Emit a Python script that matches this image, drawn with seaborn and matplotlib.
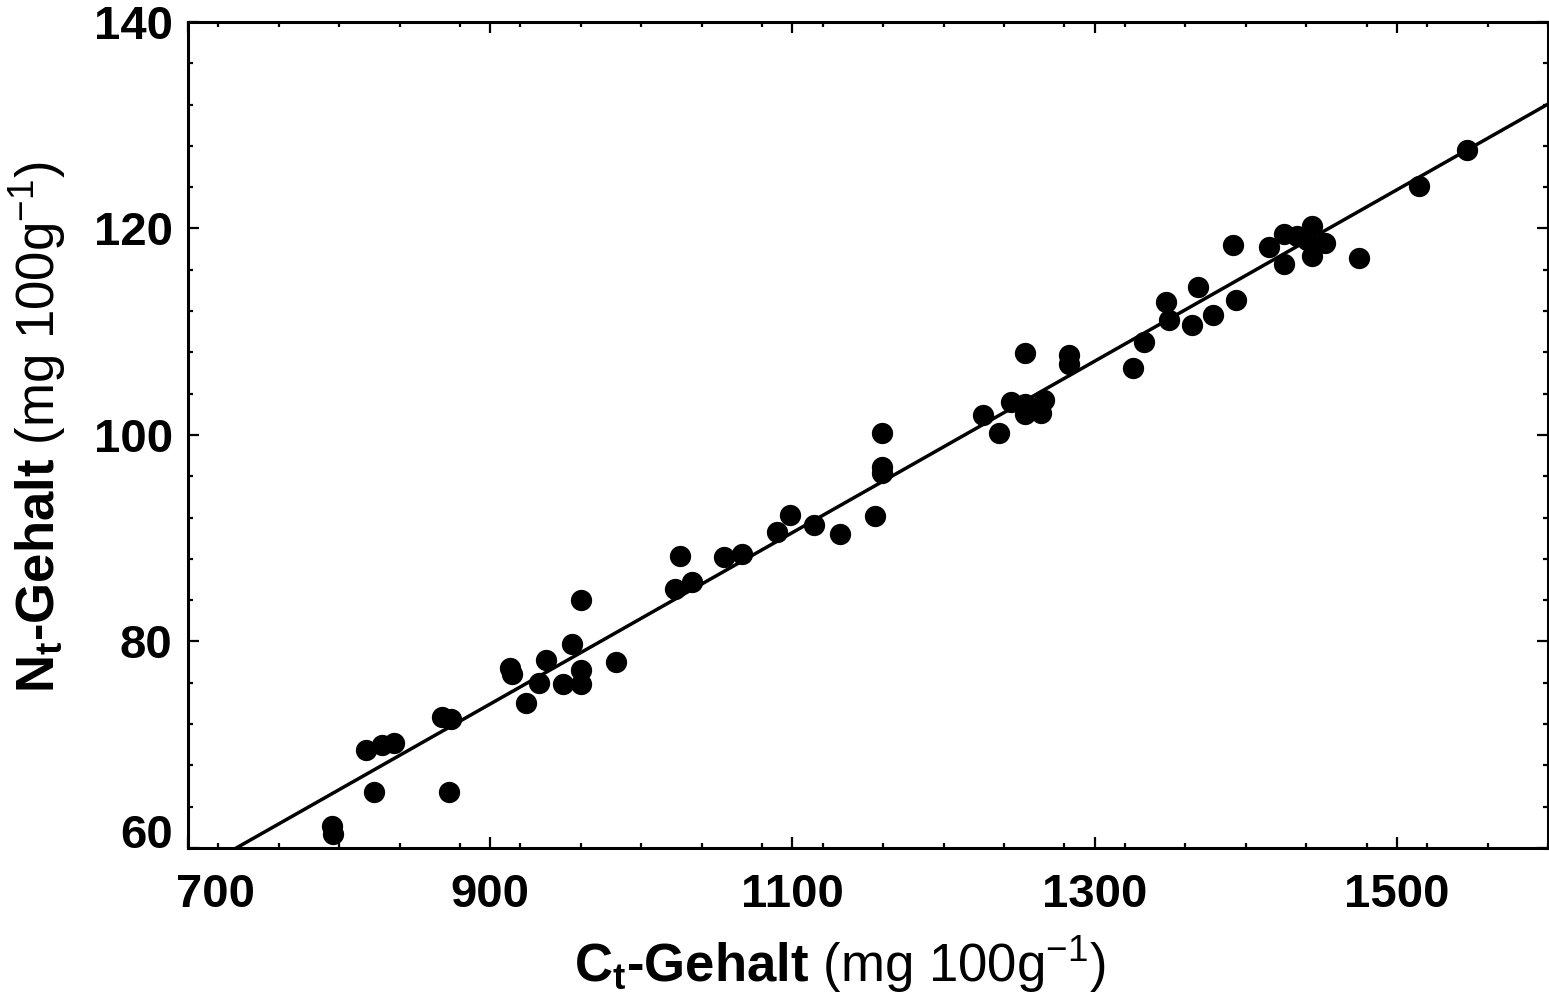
import numpy as np
import pandas as pd
import matplotlib
matplotlib.use("Agg")
import matplotlib.pyplot as plt
import seaborn as sns
from matplotlib.ticker import MultipleLocator, FixedLocator
from matplotlib.transforms import ScaledTranslation

# Data
ct_gehalt = [795.0, 795.7, 817.5, 823.4, 828.7, 836.6, 868.3, 874.3, 872.9, 913.2,
             914.5, 923.8, 932.4, 937.0, 948.2, 954.2, 960.1, 960.1, 960.1, 983.2,
             1022.1, 1025.4, 1033.3, 1054.5, 1066.4, 1089.5, 1098.7, 1114.5, 1131.7, 1154.8,
             1159.4, 1159.4, 1159.4, 1226.1, 1236.7, 1244.6, 1253.8, 1253.8, 1253.8, 1264.4,
             1266.4, 1282.9, 1282.9, 1325.1, 1332.4, 1346.9, 1349.5, 1364.1, 1368.7, 1378.6,
             1393.8, 1391.8, 1415.6, 1425.5, 1425.5, 1434.1, 1443.9, 1443.9, 1452.5, 1475.0,
             1514.6, 1546.3, 1440.7]
nt_gehalt = [62.1, 61.4, 69.5, 65.4, 70.0, 70.2, 72.7, 72.5, 65.4, 77.4,
             76.9, 74.0, 76.0, 78.2, 75.9, 79.8, 77.2, 75.9, 84.0, 78.0,
             85.1, 88.3, 85.8, 88.2, 88.5, 90.6, 92.3, 91.3, 90.4, 92.2,
             100.2, 96.9, 96.3, 101.9, 100.2, 103.2, 107.9, 103.0, 102.0, 102.1,
             103.4, 107.7, 106.9, 106.5, 109.0, 112.9, 111.1, 110.7, 114.3, 111.6,
             113.1, 118.4, 118.2, 116.6, 119.5, 119.3, 120.2, 117.3, 118.6, 117.1,
             124.1, 127.6, 118.9]

x_ticks = [700, 900, 1100, 1300, 1500]
y_ticks = [60, 80, 100, 120, 140]

df = pd.DataFrame({"Ct": ct_gehalt, "Nt": nt_gehalt})

sns.set_style("white")
plt.rcParams["font.family"] = ["Liberation Sans", "DejaVu Sans"]
plt.rcParams["mathtext.fontset"] = "custom"
plt.rcParams["mathtext.rm"] = "Liberation Sans"
plt.rcParams["mathtext.bf"] = "Liberation Sans:bold"
plt.rcParams["mathtext.it"] = "Liberation Sans:italic"
for k in ["text.color", "axes.labelcolor", "xtick.color", "ytick.color", "axes.edgecolor"]:
    plt.rcParams[k] = "black"

fig = plt.figure(figsize=(15.49, 9.98), dpi=100)
ax = fig.add_axes([188/1549, 1 - 848/998, (1548 - 188)/1549, (848 - 22)/998])

ax.set_xlim(700, 1600)
ax.set_ylim(60, 140)

sns.regplot(data=df, x="Ct", y="Nt", ax=ax, ci=None, truncate=False,
            scatter_kws=dict(s=235, color="black", linewidths=0, alpha=1, zorder=3),
            line_kws=dict(color="black", linewidth=2.5, zorder=2))

ax.set_xlim(700, 1600)
ax.set_ylim(60, 140)

ax.xaxis.set_major_locator(FixedLocator(x_ticks))
ax.yaxis.set_major_locator(FixedLocator(y_ticks))
ax.xaxis.set_minor_locator(MultipleLocator(40))
ax.yaxis.set_minor_locator(MultipleLocator(4))
ax.set_xticklabels([str(v) for v in x_ticks])
ax.set_yticklabels([str(v) for v in y_ticks])

ax.tick_params(which="both", direction="in", top=True, right=True, bottom=True, left=True,
               color="black", width=1.6)
ax.tick_params(which="major", length=8)
ax.tick_params(which="minor", length=3.5)
ax.tick_params(axis="x", which="major", pad=18, labelsize=34, labelcolor="black")
ax.tick_params(axis="y", which="major", pad=11, labelsize=34, labelcolor="black")

for lab in ax.get_xticklabels() + ax.get_yticklabels():
    lab.set_fontweight("bold")

lab700 = ax.get_xticklabels()[0]
lab700.set_transform(lab700.get_transform() + ScaledTranslation(0.27, 0, fig.dpi_scale_trans))
lab60 = ax.get_yticklabels()[0]
lab60.set_transform(lab60.get_transform() + ScaledTranslation(0, 0.17, fig.dpi_scale_trans))

for sp in ax.spines.values():
    sp.set_visible(True)
    sp.set_color("black")
    sp.set_linewidth(2.2)

ax.set_xlabel(r"C$_\mathbf{t}$-Gehalt $\mathrm{(mg\ 100g^{-1})}$", fontsize=38,
              fontweight="bold", color="black")
ax.set_ylabel(r"N$_\mathbf{t}$-Gehalt $\mathrm{(mg\ 100g^{-1})}$", fontsize=38,
              fontweight="bold", color="black")
ax.xaxis.set_label_coords(0.479, -0.105)
ax.yaxis.set_label_coords(-0.088, 0.51)

fig.savefig("out.png", dpi=100)
